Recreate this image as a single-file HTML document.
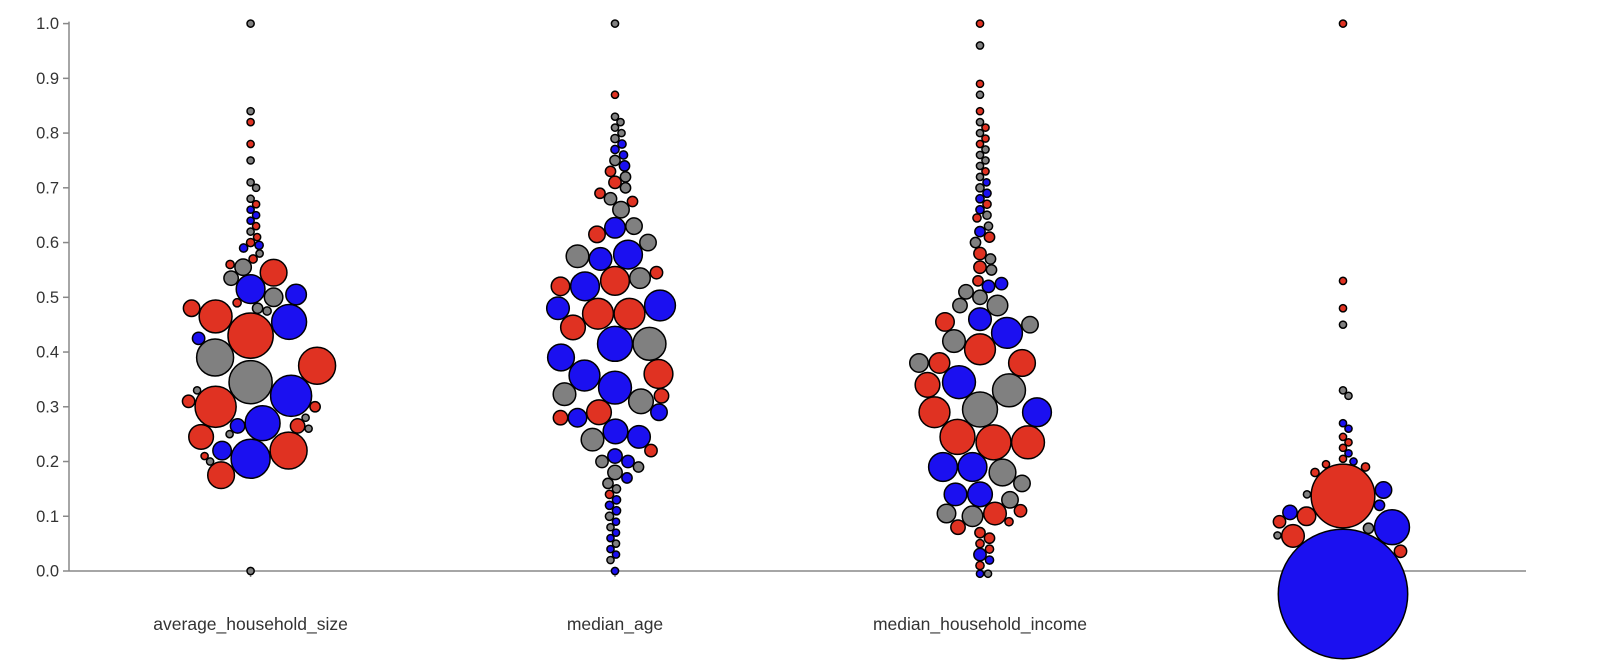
<!DOCTYPE html>
<html><head><meta charset="utf-8">
<style>
html,body{margin:0;padding:0;background:#fff;}
svg{display:block;font-family:"Liberation Sans",Arial,sans-serif;}
</style></head>
<body>
<svg id="chart" width="1610" height="667"></svg>
<script>
const categories = ["average_household_size","median_age","median_household_income",""];
const yTicks = [0,0.1,0.2,0.3,0.4,0.5,0.6,0.7,0.8,0.9,1.0];
// each point: [value, size, colorGroup]  (colorGroup: r=red, b=blue, g=gray)
const series0 = [
[.43,22,"r"],[.345,21,"g"],[.39,18,"g"],[.32,20,"b"],[.205,19,"b"],[.375,18,"r"],[.30,20,"r"],[.22,18,"r"],
[.465,16,"r"],[.27,17,"b"],[.455,17,"b"],[.515,14,"b"],[.545,13,"r"],[.50,9,"g"],[.505,10,"b"],[.48,8,"r"],
[.535,7,"g"],[.555,8,"g"],[.175,13,"r"],[.245,12,"r"],[.22,9,"b"],[.265,7,"b"],[.31,6,"r"],[.265,7,"r"],
[.425,6,"b"],[.30,5,"r"],[0,3.5,"g"],[1.0,3.5,"g"],[.84,3.5,"g"],[.82,3.5,"r"],[.78,3.5,"r"],[.75,3.5,"g"],
[.71,3.5,"g"],[.70,3.5,"g"],[.68,3.5,"g"],[.67,3.5,"r"],[.66,3.5,"b"],[.65,3.5,"b"],[.64,3.5,"b"],[.63,3.5,"r"],
[.62,3.5,"g"],[.61,3.5,"r"],[.60,4,"r"],[.595,4,"b"],[.59,4,"b"],[.58,3.5,"g"],[.57,4,"r"],[.56,4,"r"],
[.49,4,"r"],[.48,5,"g"],[.475,4,"g"],[.25,3.5,"g"],[.26,3.5,"g"],[.28,3.5,"g"],[.20,3.5,"g"],[.21,3.5,"r"],[.33,3.5,"g"]
];
const series1 = [
[.415,17,"b"],[.415,16,"g"],[.47,15,"r"],[.47,15,"r"],[.485,15,"b"],[.53,14,"r"],[.52,14,"b"],[.335,16,"b"],
[.357,15,"b"],[.36,14,"r"],[.39,13,"b"],[.445,12,"r"],[.48,11,"b"],[.31,12,"g"],[.323,11,"g"],[.29,12,"r"],
[.255,12,"b"],[.24,11,"g"],[.245,11,"b"],[.578,14,"b"],[.57,11,"b"],[.535,10,"g"],[.575,11,"g"],[.627,10,"b"],
[.52,9,"r"],[.60,8,"g"],[.615,8,"r"],[.28,7,"r"],[.28,9,"b"],[.29,8,"b"],[.32,7,"r"],[.66,8,"g"],[.63,8,"g"],
[.545,6,"r"],[.21,7,"b"],[.20,6,"b"],[.22,6,"r"],[.20,6,"g"],
[1.0,3.5,"g"],[.87,3.5,"r"],[.83,3.5,"g"],[.82,3.5,"g"],[.81,3.5,"g"],[.80,3.5,"g"],[.79,4,"g"],[.78,4,"b"],
[.77,4,"b"],[.76,4,"b"],[.75,5,"g"],[.74,5,"b"],[.73,5,"r"],[.72,5,"g"],[.71,6,"r"],[.70,5,"g"],[.69,5,"r"],
[.68,6,"g"],[.675,5,"r"],[.19,5,"g"],[.18,7,"g"],[.17,5,"b"],[.16,5,"g"],[.15,4,"g"],[.14,4,"r"],[.13,4,"b"],
[.12,4,"b"],[.11,4,"b"],[.10,4,"g"],[.09,3.5,"b"],[.08,3.5,"g"],[.07,3.5,"b"],[.06,3.5,"b"],[.05,3.5,"g"],
[.04,3.5,"b"],[.03,3.5,"b"],[.02,3.5,"g"],[0,3.5,"b"]
];
const series2 = [
[.295,17,"g"],[.235,17,"r"],[.245,17,"r"],[.235,16,"r"],[.29,15,"r"],[.33,16,"g"],[.345,16,"b"],[.405,15,"r"],
[.435,15,"b"],[.42,11,"g"],[.38,13,"r"],[.38,10,"r"],[.34,12,"r"],[.29,14,"b"],[.19,14,"b"],[.19,14,"b"],
[.18,13,"g"],[.14,12,"b"],[.16,8,"g"],[.14,11,"b"],[.485,10,"g"],[.46,11,"b"],[.455,9,"r"],[.45,8,"g"],
[.38,9,"g"],[.105,11,"r"],[.105,9,"g"],[.10,10,"g"],[.08,7,"r"],[.13,8,"g"],[.50,7,"g"],[.51,7,"g"],
[.485,7,"g"],[.52,6,"b"],[.11,6,"r"],
[1.0,3.5,"r"],[.96,3.5,"g"],[.89,3.5,"r"],[.87,3.5,"g"],[.84,3.5,"r"],[.82,3.5,"g"],[.81,3.5,"r"],[.80,3.5,"g"],
[.79,3.5,"r"],[.78,3.5,"r"],[.77,3.5,"g"],[.76,3.5,"g"],[.75,3.5,"g"],[.74,3.5,"g"],[.73,3.5,"r"],[.72,3.5,"g"],
[.71,3.5,"b"],[.70,4,"g"],[.69,4,"b"],[.68,4,"b"],[.67,4,"r"],[.66,4,"b"],[.65,4,"g"],[.645,4,"r"],[.63,4,"g"],
[.62,5,"b"],[.61,5,"r"],[.60,5,"g"],[.58,6,"r"],[.57,5,"g"],[.555,6,"r"],[.55,5,"g"],[.53,5,"r"],[.525,6,"b"],
[.09,4,"r"],[.07,5,"r"],[.06,5,"r"],[.05,4,"r"],[.04,4,"r"],[.03,6,"b"],[.02,4,"b"],[.01,4,"r"],[-.005,3.5,"b"],[-.005,3.5,"g"]
];
const series3 = [
[-.042,63,"b"],[.137,31,"r"],[.08,17,"b"],[.064,11,"r"],[.10,9,"r"],[.148,8,"b"],[.107,7,"b"],[.036,6,"r"],
[.12,5,"b"],[.078,5,"g"],[.09,6,"r"],[.14,3.5,"g"],[.065,3.5,"g"],
[1.0,3.5,"r"],[.53,3.5,"r"],[.48,3.5,"r"],[.45,3.5,"g"],[.33,3.5,"g"],[.32,3.5,"g"],[.27,3.5,"b"],[.26,3.5,"b"],
[.245,3.5,"r"],[.235,3.5,"r"],[.225,3.5,"r"],[.215,3.5,"b"],[.205,3.5,"r"],[.20,3.5,"b"],[.195,3.5,"r"],
[.19,4,"r"],[.18,4,"r"]
];
const allSeries = [series0,series1,series2,series3];

const NS="http://www.w3.org/2000/svg";
const svg=document.getElementById("chart");
const X0=69, X1=1526, Y0=571, Y1=23.6;
const centers=[250.6,615,980,1343];
const colors={r:"#e03222",b:"#1b10f0",g:"#808080"};
function yScale(v){return Y0-(Y0-Y1)*v;}
function xScale(i){return centers[i];}
function rScale(s){return s*1.027;}
function mk(tag,attrs){const e=document.createElementNS(NS,tag);for(const k in attrs)e.setAttribute(k,attrs[k]);return e;}

const axisG=mk("g",{});


svg.appendChild(axisG);
const yLine=mk("line",{x1:X0,y1:Y1-2,x2:X0,y2:Y0,stroke:"#888","stroke-width":1.5});


axisG.appendChild(yLine);
const xLine=mk("line",{x1:X0,y1:Y0,x2:X1,y2:Y0,stroke:"#888","stroke-width":1.5});


axisG.appendChild(xLine);
yTicks.forEach(t=>{
  const y=yScale(t);
  const tk=mk("line",{x1:X0-6,y1:y,x2:X0,y2:y,stroke:"#888","stroke-width":1.5});
  
  
  axisG.appendChild(tk);
  const tx=mk("text",{x:X0-10,y:y+5.5,"text-anchor":"end","font-size":16.5,fill:"#333"});
  tx.textContent=t.toFixed(1);
  
  
  axisG.appendChild(tx);
});
categories.forEach((c,i)=>{
  const x=xScale(i);
  const tk=mk("line",{x1:x,y1:Y0,x2:x,y2:Y0+6,stroke:"#888","stroke-width":1.5});
  
  
  axisG.appendChild(tk);
  const tx=mk("text",{x:x,y:630,"text-anchor":"middle","font-size":17.5,fill:"#333"});
  tx.textContent=c;
  
  
  axisG.appendChild(tx);
});

allSeries.forEach((ser,ci)=>{
  const g=mk("g",{});
  
  
  svg.appendChild(g);
  const pts=ser.map(d=>({y:yScale(d[0]),r:rScale(d[1]),c:d[2]}));
  const order=pts.slice().sort((a,b)=>b.r-a.r);
  const placed=[];
  const cx=xScale(ci);
  order.forEach(p=>{
    let best=null;
    for(let off=0;off<200;off+=0.5){
      for(const s of (off===0?[1]:[1,-1])){
        const x=cx+s*off;
        let ok=true;
        for(const q of placed){
          const dx=q.x-x,dy=q.y-p.y,rr=q.r+p.r+0.5;
          if(dx*dx+dy*dy<rr*rr){ok=false;break;}
        }
        if(ok){best=x;break;}
      }
      if(best!==null)break;
    }
    p.x=best===null?cx:best;
    placed.push(p);
  });
  placed.forEach(p=>{
    const c=mk("circle",{cx:p.x,cy:p.y,r:p.r,fill:colors[p.c],stroke:"#000","stroke-width":1.5});
    
    
    g.appendChild(c);
  });
});
</script>
</body></html>
